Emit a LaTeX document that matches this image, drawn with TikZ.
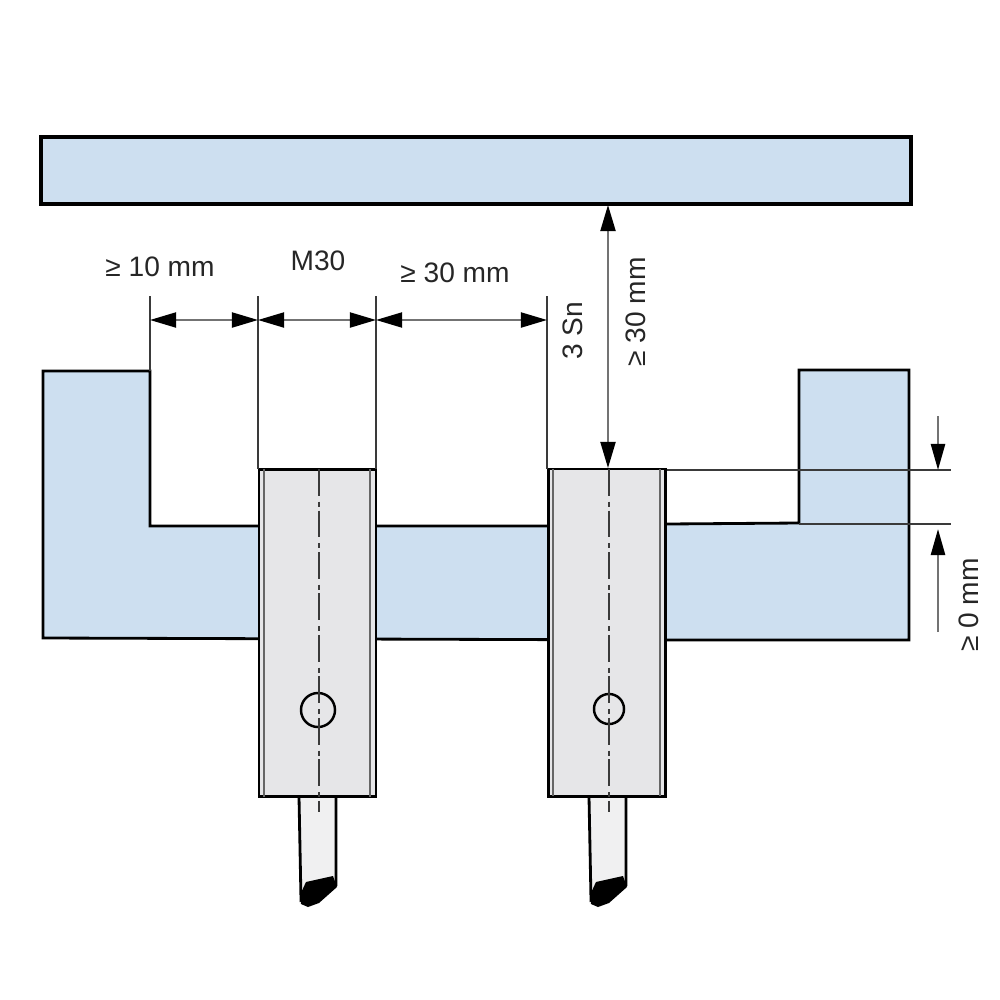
\documentclass[tikz,border=0pt]{standalone}
\usepackage{fontspec}
\setmainfont{Liberation Sans}
\usetikzlibrary{arrows.meta}
\definecolor{partblue}{HTML}{CDDFF0}
\definecolor{sensorgrey}{HTML}{E6E6E8}
\definecolor{thinline}{HTML}{3A3A3A}
\tikzset{
  plate/.style={rectangle, draw, line width=1.1pt, fill=partblue, minimum width=8.7cm, minimum height=0.67cm, inner sep=0pt, outer sep=0pt},
  sensor/.style={rectangle, draw, line width=0.8pt, fill=sensorgrey, minimum width=1.17cm, minimum height=3.27cm, inner sep=0pt, outer sep=0pt},
  ledhole/.style={circle, draw, line width=0.7pt, inner sep=0pt, outer sep=0pt},
  label/.style={inner sep=0pt, font=\fontsize{8}{9.5}\selectfont, text=black!85},
  extline/.style={thinline, line width=0.35pt},
  dim/.style={black!55, line width=0.55pt, {Triangle[length=0.26cm,width=0.15cm,color=black,fill=black]}-{Triangle[length=0.26cm,width=0.15cm,color=black,fill=black]}},
  dimin/.style={black!55, line width=0.7pt, -{Triangle[length=0.26cm,width=0.14cm,color=black,fill=black]}},
  axisline/.style={thinline, line width=0.4pt, dash pattern=on 7.6pt off 1.7pt on 1.4pt off 1.1pt}
}
\begin{document}
\begin{tikzpicture}[x=0.01cm,y=-0.01cm]
\useasboundingbox (0,0) rectangle (1000,1000);

% top plate and the part the sensors sit in
\node[plate] (target) at (476,170.5) {};
\draw[line width=0.8pt, fill=partblue] (43,371) -- (150,371) -- (150,526) -- (376,526) -- (547,526) -- (667,524) -- (799,523) -- (799,370) -- (909,370) -- (909,640) -- (667,640) -- (43,638) -- cycle;

% cables
\foreach \i/\dx in {a/0,b/290} {
  \draw[line width=0.8pt, fill=sensorgrey!60, xshift=\dx*0.01cm] (299,797) -- (301,900) -- (336,885) -- (336,797);
  \fill[black, xshift=\dx*0.01cm] (306,882) -- (333,876) -- (337,887) -- (319,903) -- (308,907) -- (301,904) -- (300,895) -- cycle;
}

% sensors
\node[sensor] (sensa) at (317.5,633) {};
\node[sensor] (sensb) at (607,632.5) {};
\draw[black!60, line width=0.5pt] (264,469) -- (264,797) (370,469) -- (370,797);
\draw[black!60, line width=0.5pt] (553,469) -- (553,796) (660,469) -- (660,796);

\node[ledhole, minimum size=0.34cm] (leda) at (318,710) {};
\node[ledhole, minimum size=0.30cm] (ledb) at (609,709) {};

% center lines
\coordinate (axa1) at (319,469);
\coordinate (axa2) at (319,812);
\coordinate (axb1) at (609,469);
\coordinate (axb2) at (609,812);
\draw[axisline] (axa1) -- (axa2);
\draw[axisline] (axb1) -- (axb2);

% extension lines
\coordinate (e1t) at (150,296);
\coordinate (e1b) at (150,371);
\coordinate (e2t) at (258,296);
\coordinate (e2b) at (258,469);
\coordinate (e3t) at (376,296);
\coordinate (e3b) at (376,469);
\coordinate (e4t) at (547,296);
\coordinate (e4b) at (547,469);
\draw[extline] (e1t) -- (e1b);
\draw[extline] (e2t) -- (e2b);
\draw[extline] (e3t) -- (e3b);
\draw[extline] (e4t) -- (e4b);

\coordinate (r1a) at (667,470);
\coordinate (r1b) at (951,470);
\coordinate (r2a) at (799,524);
\coordinate (r2b) at (951,524);
\draw[extline] (r1a) -- (r1b);
\draw[extline] (r2a) -- (r2b);

% dimension arrows
\coordinate (d1) at (150,320);
\coordinate (d2) at (258,320);
\coordinate (d3) at (376,320);
\coordinate (d4) at (547,320);
\draw[dim] (d1) -- (d2);
\draw[dim] (d2) -- (d3);
\draw[dim] (d3) -- (d4);

\coordinate (g1) at (608,205);
\coordinate (g2) at (608,468);
\draw[dim] (g1) -- (g2);

\coordinate (s1) at (938,416);
\coordinate (s2) at (938,470);
\coordinate (s3) at (938,632);
\coordinate (s4) at (938,529);
\draw[dimin] (s1) -- (s2);
\draw[dimin] (s3) -- (s4);

% labels
\node[label] (lab10) at (160,267) {≥ 10 mm};
\node[label] (labm) at (318,261) {M30};
\node[label] (lab30) at (455,273) {≥ 30 mm};
\node[label, rotate=90] (labsn) at (573,331) {3 Sn};
\node[label, rotate=90] (lab30b) at (636,312) {≥ 30 mm};
\node[label, rotate=90] (lab0) at (969,605) {≥ 0 mm};

\end{tikzpicture}
\end{document}
